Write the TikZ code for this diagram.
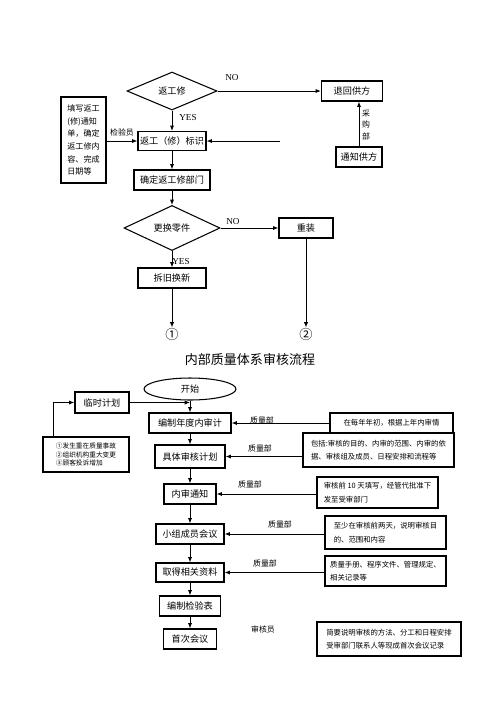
\documentclass[tikz,border=0pt]{standalone}
\usepackage{fontspec}
\setmainfont{Liberation Serif}
\newfontfamily\cjk{Noto Sans CJK SC}
\usepackage{tikz}
\usetikzlibrary{positioning, shapes.geometric, arrows.meta, calc}

\begin{document}
\begin{tikzpicture}[x=0.02cm, y=-0.02cm,
  box/.style={draw, line width=0.7pt, inner sep=0pt, font=\cjk\fontsize{5.2}{6}\selectfont},
  note/.style={draw, line width=0.7pt, inner sep=1pt, align=left, font=\cjk\fontsize{4.2}{7.6}\selectfont},
  dec/.style={draw, diamond, line width=0.6pt, inner sep=0pt, font=\cjk\fontsize{5.2}{6}\selectfont},
  lbl/.style={inner sep=0pt, font=\cjk\fontsize{4.5}{5}\selectfont},
  yn/.style={inner sep=0pt, font=\fontsize{5.2}{6}\selectfont},
  arr/.style={line width=0.55pt, -{Latex[length=3pt,width=2.4pt]}}]
\useasboundingbox (0,0) rectangle (500,708);

% Rework flow
\node[dec, minimum width=1.8cm, minimum height=0.76cm] (rw) at (172,91) {返工修};
\node[box, minimum width=1.22cm, minimum height=0.4cm] (back) at (352,91) {退回供方};
\node[box, minimum width=0.92cm, minimum height=0.4cm] (notify) at (359,157) {通知供方};
\node[box, minimum width=1.36cm, minimum height=0.38cm] (mark) at (172,141) {返工（修）标识};
\node[box, minimum width=0.9cm, minimum height=1.72cm, align=left,
      font=\cjk\fontsize{4.6}{7.2}\selectfont] (form) at (83.5,140)
      {填写返工\\(修)通知\\单，确定\\返工修内\\容、完成\\日期等};
\node[box, minimum width=1.52cm, minimum height=0.4cm] (dept) at (172,180) {确定返工修部门};
\node[dec, minimum width=1.92cm, minimum height=0.78cm] (chg) at (172,228) {更换零件};
\node[box, minimum width=1.08cm, minimum height=0.4cm] (redo) at (306,228) {重装};
\node[box, minimum width=1.36cm, minimum height=0.4cm] (swap) at (172,278) {拆旧换新};
\node[inner sep=0pt, font=\cjk\fontsize{7.5}{8}\selectfont] (c1) at (172,334) {①};
\node[inner sep=0pt, font=\cjk\fontsize{7.5}{8}\selectfont] (c2) at (306,334) {②};
\coordinate (ret) at (280,141);

\node[yn] (no1) at (232,78) {NO};
\node[yn] (yes1) at (188,118) {YES};
\node[lbl] (chk) at (122,132) {检验员};
\node[lbl, align=center, font=\cjk\fontsize{4.5}{6.6}\selectfont] (buy) at (366,125) {采\\购\\部};
\node[yn] (no2) at (233,222) {NO};
\node[yn] (yes2) at (181,262) {YES};

\draw[arr] (rw) -- (back);
\draw[arr] (rw) -- (mark);
\draw[arr] (notify.north) -- (notify.north |- back.south);
\draw[arr] (form.east |- mark) -- (mark.west);
\draw[arr] (ret) -- (mark.east);
\draw[arr] (mark) -- (dept);
\draw[arr] (dept) -- (chg);
\draw[arr] (chg) -- (redo);
\draw[arr] (chg) -- (swap);
\draw[arr] (swap) -- (c1);
\draw[arr] (redo) -- (c2);

% Internal audit flow
\node[inner sep=0pt, font=\cjk\fontsize{7.4}{8}\selectfont] (title) at (250,360) {内部质量体系审核流程};
\node[draw, ellipse, line width=0.6pt, minimum width=1.84cm, minimum height=0.44cm, inner sep=0pt,
      font=\cjk\fontsize{5.2}{6}\selectfont] (start) at (190,389) {开始};
\node[box, minimum width=1.08cm, minimum height=0.42cm] (plan) at (102,402.5) {临时计划};
\node[box, minimum width=1.72cm, minimum height=0.7cm, align=left,
      font=\cjk\fontsize{3.8}{5}\selectfont] (why) at (86,454.5)
      {①发生重在质量事故\\②组织机构重大变更\\③顾客投诉增加};

\node[box, minimum width=1.64cm, minimum height=0.4cm] (s1) at (190,423) {编制年度内审计};
\node[box, minimum width=1.4cm, minimum height=0.46cm] (s2) at (190,456.5) {具体审核计划};
\node[box, minimum width=1.04cm, minimum height=0.4cm] (s3) at (190,494) {内审通知};
\node[box, minimum width=1.36cm, minimum height=0.4cm] (s4) at (190,534) {小组成员会议};
\node[box, minimum width=1.36cm, minimum height=0.38cm] (s5) at (190,572.5) {取得相关资料};
\node[box, minimum width=1.22cm, minimum height=0.4cm] (s6) at (190,606) {编制检验表};
\node[box, minimum width=1.06cm, minimum height=0.4cm] (s7) at (190,639) {首次会议};

\node[note, minimum width=2.46cm, minimum height=0.4cm] (n1) at (391.5,423) {在每年年初，根据上年内审情};
\node[note, minimum width=3.02cm, minimum height=0.68cm] (n2) at (378.5,450)
     {包括:审核的目的、内审的范围、内审的依\\据、审核组及成员、日程安排和流程等};
\node[note, minimum width=2.42cm, minimum height=0.62cm] (n3) at (377.5,492.5)
     {审核前 10 天填写，经管代批准下\\发至受审部门};
\node[note, minimum width=2.42cm, minimum height=0.66cm] (n4) at (385.5,532.5)
     {至少在审核前两天，说明审核目\\的、范围和内容};
\node[note, minimum width=2.42cm, minimum height=0.6cm] (n5) at (385.5,571)
     {质量手册、程序文件、管理规定、\\相关记录等};
\node[note, minimum width=2.88cm, minimum height=0.68cm] (n6) at (389,639)
     {简要说明审核的方法、分工和日程安排\\受审部门联系人等现成首次会议记录};

\foreach \i/\x/\y in {1/262/420, 2/260/448, 3/250/484, 4/280/524, 5/265/563}{
  \node[lbl] (q\i) at (\x,\y) {质量部};
}
\node[lbl] (aud) at (263,629) {审核员};

\coordinate (join) at (start.south |- plan.east);
\draw[arr] (start) -- (s1);
\draw[arr] (plan) -- (join);
\draw[arr] ([xshift=0.22cm]why.north west) |- (plan.west);
\foreach \i/\j in {1/2,2/3,3/4,4/5,5/6,6/7}{
  \draw[arr] (s\i) -- (s\j);
}
\foreach \i in {1,...,5}{
  \draw[arr] (s\i -| n\i.west) -- (s\i.east);
}
\end{tikzpicture}
\end{document}
